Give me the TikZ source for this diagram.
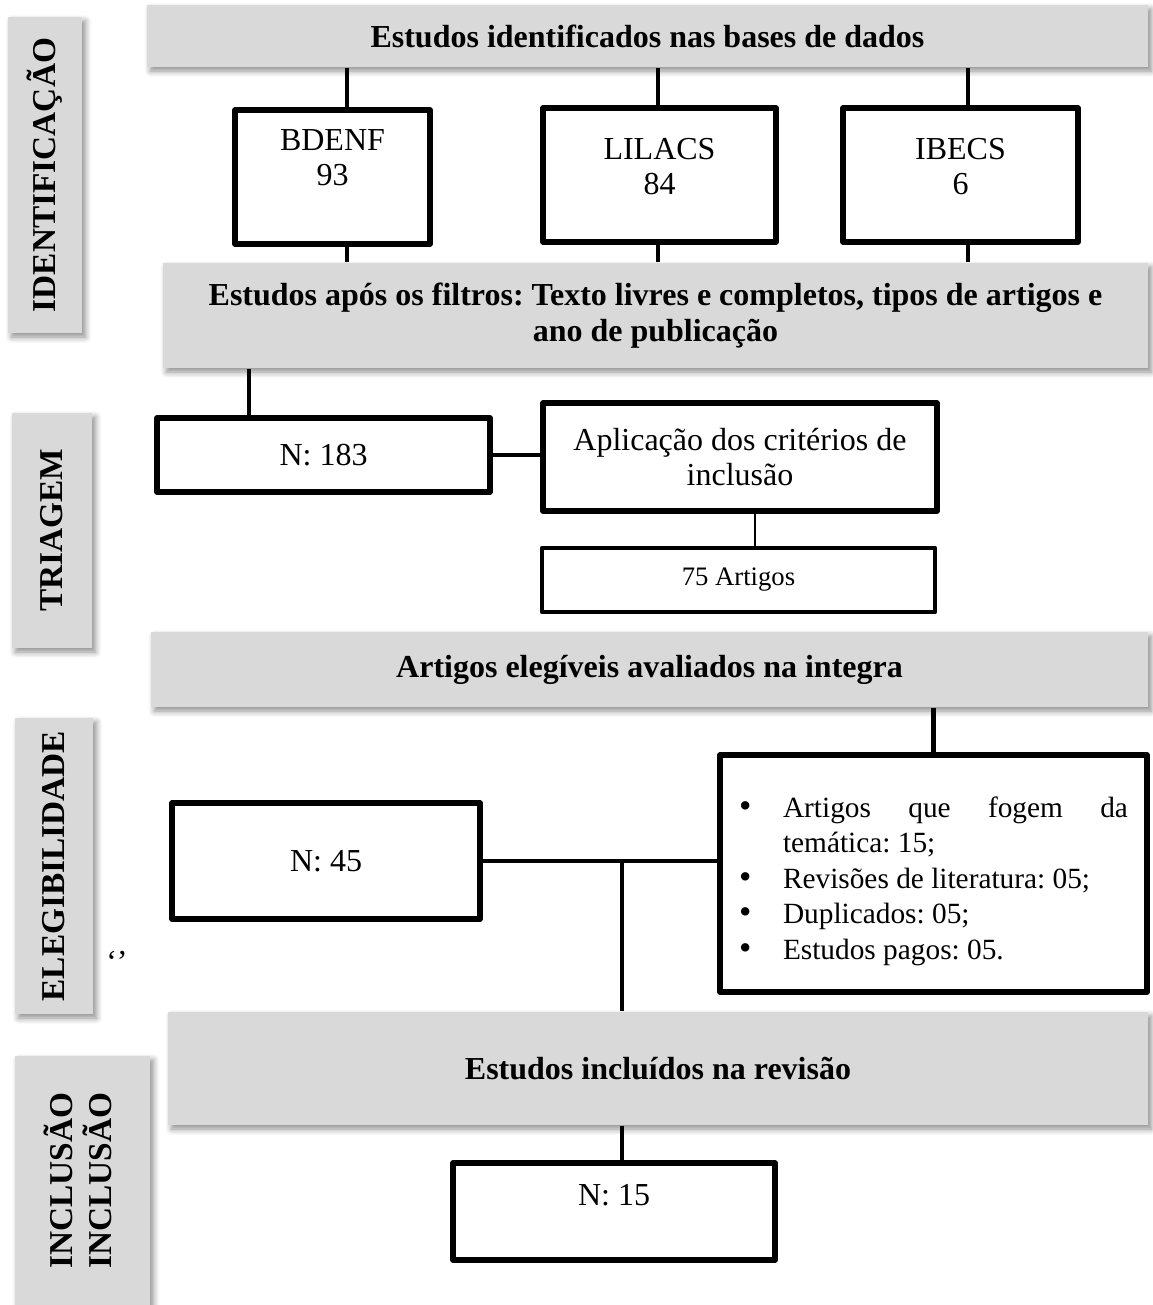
\documentclass[12pt,tikz,border=0pt]{standalone}
\usepackage{fontspec}
\setmainfont{Liberation Serif}
\usepackage{graphicx}
\usetikzlibrary{positioning, calc, shadows.blur}

\definecolor{barfill}{HTML}{D9D9D9}
\frenchspacing
\newcommand{\bigbullet}{\scalebox{1.2}{\textbullet}}

\begin{document}
\begin{tikzpicture}[
    x=0.375pt, y=-0.375pt,
    wd/.style={minimum width=#1*0.375pt},
    ht/.style={minimum height=#1*0.375pt},
    graybar/.style={rectangle, fill=barfill, inner sep=0pt, align=center,
        font=\fontsize{12}{13.5}\selectfont\bfseries,
        blur shadow={shadow xshift=1.3pt, shadow yshift=-1.5pt, shadow blur steps=6, shadow opacity=45}},
    phase/.style={graybar, font=\fontsize{12.5}{12.5}\selectfont\bfseries},
    dbbox/.style={rectangle, draw, line width=2.1pt, line join=round, fill=white, inner sep=0pt, align=center},
    toptext/.style={anchor=north, inner sep=0pt, align=center, font=\fontsize{12}{13.1}\selectfont},
    link/.style={line width=1.7pt},
    thinlink/.style={line width=0.75pt}
]
\useasboundingbox (0,0) rectangle (1153,1305);

% Phase labels on the left
\node[phase, wd=74, ht=316] (phident) at (45,175) {\rotatebox{90}{IDENTIFICAÇÃO}};
\node[phase, wd=80, ht=235] (phtriag) at (52,530.5) {\rotatebox{90}{TRIAGEM}};
\node[phase, wd=78, ht=296] (pheleg) at (54,866) {\rotatebox{90}{ELEGIBILIDADE}};
\node[phase, wd=135, ht=249] (phincl) at (82.5,1180.5)
    {\rotatebox{90}{\begin{tabular}{@{}c@{}}INCLUSÃO\\INCLUSÃO\end{tabular}}};

% Gray headers
\node[graybar, wd=1001, ht=62] (hdbases) at (647.5,36) {Estudos identificados nas bases de dados};
\node[graybar, wd=985, ht=105] (hdfiltros) at (655.5,315.5)
    {Estudos após os filtros: Texto livres e completos, tipos de artigos e\\ano de publicação};
\node[graybar, wd=997, ht=75] (hdelegiveis) at (649.5,669.5) {Artigos elegíveis avaliados na integra};
\node[graybar, wd=980, ht=113] (hdincluidos) at (658,1068.5) {Estudos incluídos na revisão};

% Databases
\node[dbbox, wd=195, ht=134, label={[toptext, yshift=-8.25pt]north:BDENF\\93}] (bdenf) at (332.5,177) {};
\node[dbbox, wd=233, ht=134, label={[toptext, yshift=-12.4pt]north:LILACS\\84}] (lilacs) at (659.5,175) {};
\node[dbbox, wd=235, ht=134, label={[toptext, yshift=-12.4pt]north:IBECS\\6}] (ibecs) at (960.5,175) {};

\coordinate (xbdenf) at (347,0);
\coordinate (xlilacs) at (658,0);
\coordinate (xibecs) at (968,0);

\draw[link] (hdbases.south -| xbdenf) -- (bdenf.north -| xbdenf);
\draw[link] (hdbases.south -| xlilacs) -- (lilacs.north -| xlilacs);
\draw[link] (hdbases.south -| xibecs) -- (ibecs.north -| xibecs);
\draw[link] (bdenf.south -| xbdenf) -- (hdfiltros.north -| xbdenf);
\draw[link] (lilacs.south -| xlilacs) -- (hdfiltros.north -| xlilacs);
\draw[link] (ibecs.south -| xibecs) -- (hdfiltros.north -| xibecs);

% Triagem
\node[dbbox, wd=333, ht=74] (n183) at (323.5,455) {N: 183};
\node[dbbox, wd=394, ht=108, font=\fontsize{12}{13.1}\selectfont] (aplic) at (740,457)
    {Aplicação dos critérios de\\inclusão};
\node[dbbox, wd=393, ht=64, line width=1.6pt, font=\fontsize{10}{12}\selectfont] (art75) at (738.5,580) {75 Artigos};

\coordinate (x183) at (249,0);
\coordinate (x75) at (755,0);

\draw[link] (hdfiltros.south -| x183) -- (n183.north -| x183);
\draw[link] (n183.east) -- (n183.east -| aplic.west);
\draw[thinlink] (aplic.south -| x75) -- (art75.north -| x75);

% Elegibilidade
\node[dbbox, wd=308, ht=116] (n45) at (326,861) {N: 45};
\node[dbbox, wd=427, ht=237, text width=389*0.375pt, align=justify,
    font=\fontsize{11}{13.3}\selectfont] (motivos) at (933.5,873.5) {%
    \begin{list}{\bigbullet\hfill}{\setlength\leftmargin{16.5pt}\setlength\labelwidth{16.5pt}%
        \setlength\labelsep{0pt}\setlength\itemsep{0pt}\setlength\parsep{0pt}\setlength\topsep{0pt}}
    \item Artigos que fogem da\linebreak temática: 15;
    \item Revisões de literatura: 05;
    \item Duplicados: 05;
    \item Estudos pagos: 05.
    \end{list}};
\node (aspas) at (117,962) {‘’};

\coordinate (split) at (622,861);

\draw[link] (hdelegiveis.south -| motivos.north) -- (motivos.north);
\draw[link] (n45.east) -- (n45.east -| motivos.west);
\draw[link] (split) -- (split |- hdincluidos.north);

% Inclusao
\node[dbbox, wd=322, ht=97, label={[toptext, yshift=-9pt]north:N: 15}] (n15) at (614,1211.5) {};
\draw[link] (hdincluidos.south -| split) -- (n15.north -| split);

\end{tikzpicture}
\end{document}
